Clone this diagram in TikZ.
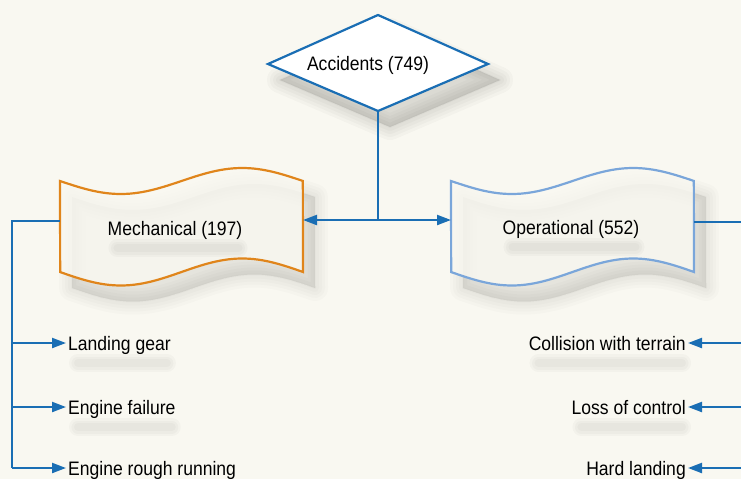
\documentclass[tikz,border=0pt]{standalone}
\usepackage{fontspec}
\setmainfont{Liberation Sans}[FakeStretch=0.9]
\usetikzlibrary{arrows.meta}
\definecolor{bg}{RGB}{249,248,241}
\definecolor{lineblue}{RGB}{26,110,180}
\definecolor{mechorange}{RGB}{224,133,27}
\definecolor{opblue}{RGB}{122,166,218}
\definecolor{shadowc}{RGB}{60,60,55}
\tikzset{
  conn/.style={draw=lineblue, line width=2.2pt},
  arr/.style={conn, -{Triangle[length=14pt,width=10pt]}},
  lbl/.style={inner sep=0pt, inner xsep=2pt, text height=14pt, text depth=0pt, font=\fontsize{19.5}{22}\selectfont},
  softlayer/.style={draw=shadowc, fill=shadowc, line join=round, opacity=0.03, line width=#1},
}
\newcommand\mechshape{(60,181) -- plot[domain=0:1, samples=60] ({60+243*\x},{181+13*sin(360*\x)}) -- plot[domain=1:0, samples=60] ({60+243*\x},{272+13.5*sin(360*\x)}) -- cycle}
\newcommand\opershape{(451,181) -- plot[domain=0:1, samples=60] ({451+243*\x},{181+13*sin(360*\x)}) -- plot[domain=1:0, samples=60] ({451+243*\x},{272+13.5*sin(360*\x)}) -- cycle}
\newcommand\accshape{(268,64) -- (378,15) -- (488,64) -- (378,111) -- cycle}
\begin{document}
\begin{tikzpicture}[x=1pt,y=-1pt]
\fill[bg] (0,0) rectangle (741,479);
\useasboundingbox (0,0) rectangle (741,479);

% soft shadows
\begin{scope}[shift={(12,16)}]
  \foreach \w in {26,20,14,8,2} {
    \path[softlayer=\w pt] \accshape;
    \path[softlayer=\w pt, opacity=0.018] \mechshape;
    \path[softlayer=\w pt, opacity=0.018] \opershape;
  }
\end{scope}

% diamond
\draw[draw=lineblue, line width=2.2pt, fill=white] \accshape;
\node[lbl] (acc) at (368,63) {Accidents (749)};
\coordinate (accB) at (378,111);

% mechanical wave
\fill[bg, opacity=0.8] \mechshape;
\draw[draw=mechorange, line width=2.2pt] \mechshape;
\node[lbl] (mech) at (175,228) {Mechanical (197)};
\coordinate (mechL) at (60,221);
\coordinate (mechR) at (303,220);

% operational wave
\fill[bg, opacity=0.8] \opershape;
\draw[draw=opblue, line width=2.2pt] \opershape;
\node[lbl] (oper) at (571,227) {Operational (552)};
\coordinate (operL) at (451,220);
\coordinate (operR) at (694,222);

% top connectors
\coordinate (junc) at (378,220);
\draw[conn] (accB) -- (junc);
\draw[arr] (junc) -- (mechR);
\draw[arr] (junc) -- (operL);

% left tree
\coordinate (tl) at (12,221);
\coordinate (tlb) at (12,468);
\node[lbl, anchor=west] (lg) at (66,343) {Landing gear};
\node[lbl, anchor=west] (ef) at (66,407) {Engine failure};
\node[lbl, anchor=west] (er) at (66,468) {Engine rough running};
\draw[conn] (mechL) -- (tl) -- (tlb);
\draw[arr] (lg.west -| tl) -- (lg.west);
\draw[arr] (ef.west -| tl) -- (ef.west);
\draw[arr] (er.west -| tl) -- (er.west);

% right tree
\coordinate (tr) at (741,222);
\node[lbl, anchor=east] (ct) at (688,343) {Collision with terrain};
\node[lbl, anchor=east] (lc) at (688,407) {Loss of control};
\node[lbl, anchor=east] (hl) at (688,468) {Hard landing};
\draw[conn] (operR) -- (tr);
\draw[arr] (ct.east -| tr) -- (ct.east);
\draw[arr] (lc.east -| tr) -- (lc.east);
\draw[arr] (hl.east -| tr) -- (hl.east);

% soft text shadows
\foreach \n in {mech,oper,lg,ef,ct,lc} {
  \foreach \w in {18,13,8} {
    \draw[shadowc, opacity=0.03, line width=\w pt, line cap=round]
      ([xshift=12pt,yshift=-20pt]\n.west) -- ([xshift=-6pt,yshift=-20pt]\n.east);
  }
}
\end{tikzpicture}
\end{document}
